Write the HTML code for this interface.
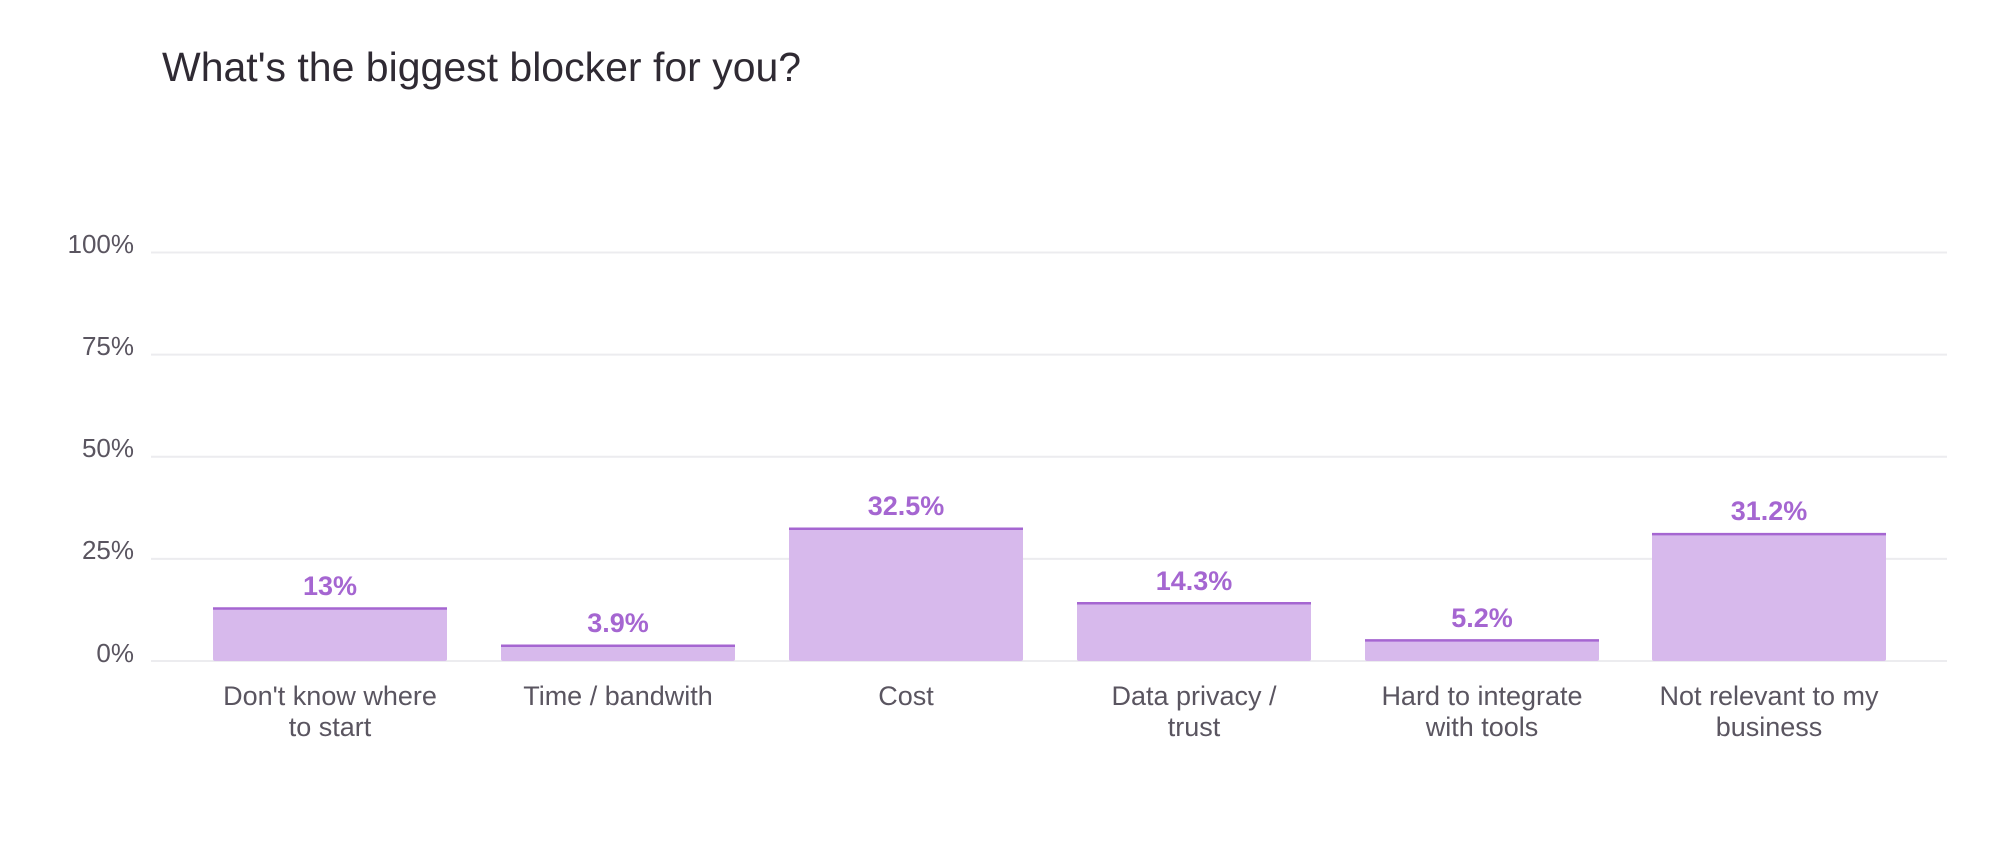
<!DOCTYPE html>
<html><head><meta charset="utf-8"><style>
html,body{margin:0;padding:0;background:#fff;}
body{width:2010px;height:850px;overflow:hidden;font-family:"Liberation Sans",sans-serif;}
</style></head><body>
<svg width="2010" height="850" xmlns="http://www.w3.org/2000/svg" font-family="Liberation Sans, sans-serif">
<text x="162" y="81" font-size="41" fill="#2f2a33">What's the biggest blocker for you?</text>
<g stroke="#ececef" stroke-width="2">
<line x1="151" x2="1947" y1="252.5" y2="252.5"/>
<line x1="151" x2="1947" y1="354.6" y2="354.6"/>
<line x1="151" x2="1947" y1="456.8" y2="456.8"/>
<line x1="151" x2="1947" y1="558.9" y2="558.9"/>
<line x1="151" x2="1947" y1="661" y2="661"/>
</g>
<g font-size="26" fill="#5a5560" text-anchor="end">
<text x="134" y="253">100%</text>
<text x="134" y="355">75%</text>
<text x="134" y="457">50%</text>
<text x="134" y="559">25%</text>
<text x="134" y="662">0%</text>
</g>
<g fill="#d7b9ec">
<rect x="213" y="607.9" width="234" height="53.1" rx="2"/>
<rect x="501" y="645.1" width="234" height="15.9" rx="2"/>
<rect x="789" y="528.2" width="234" height="132.8" rx="2"/>
<rect x="1077" y="602.6" width="234" height="58.4" rx="2"/>
<rect x="1365" y="639.8" width="234" height="21.2" rx="2"/>
<rect x="1652" y="533.5" width="234" height="127.5" rx="2"/>
</g>
<g stroke="#a566d1" stroke-width="2.5">
<line x1="213" x2="447" y1="608.5" y2="608.5"/>
<line x1="501" x2="735" y1="645.7" y2="645.7"/>
<line x1="789" x2="1023" y1="528.8" y2="528.8"/>
<line x1="1077" x2="1311" y1="603.2" y2="603.2"/>
<line x1="1365" x2="1599" y1="640.4" y2="640.4"/>
<line x1="1652" x2="1886" y1="534.1" y2="534.1"/>
</g>
<g font-size="27" font-weight="bold" fill="#a566d1" text-anchor="middle">
<text x="330" y="595">13%</text>
<text x="618" y="632">3.9%</text>
<text x="906" y="515">32.5%</text>
<text x="1194" y="590">14.3%</text>
<text x="1482" y="627">5.2%</text>
<text x="1769" y="520">31.2%</text>
</g>
<g font-size="27" fill="#5a5560" text-anchor="middle">
<text x="330" y="705">Don't know where</text>
<text x="330" y="736">to start</text>
<text x="618" y="705">Time / bandwith</text>
<text x="906" y="705">Cost</text>
<text x="1194" y="705">Data privacy /</text>
<text x="1194" y="736">trust</text>
<text x="1482" y="705">Hard to integrate</text>
<text x="1482" y="736">with tools</text>
<text x="1769" y="705">Not relevant to my</text>
<text x="1769" y="736">business</text>
</g>
</svg>
</body></html>
